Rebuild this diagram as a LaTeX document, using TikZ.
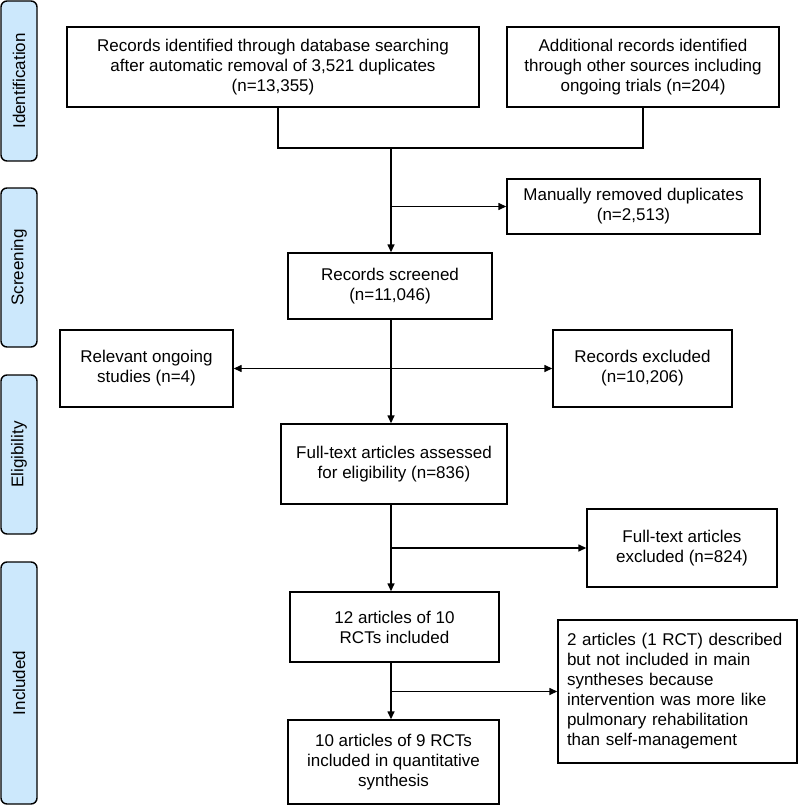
\documentclass[tikz,border=0pt]{standalone}
\usepackage{fontspec}
\setmainfont{Liberation Sans}
\usetikzlibrary{arrows.meta}
\definecolor{tabblue}{RGB}{204,232,252}
\tikzset{
  box/.style={draw=black, line width=1.4pt, fill=white, inner sep=0pt, align=center,
    font=\fontsize{17}{20}\selectfont},
  tab/.style={draw=black, line width=1.4pt, fill=tabblue, rounded corners=6pt, inner sep=0pt,
    minimum width=36pt},
  tabtext/.style={rotate=90, font=\fontsize{17}{20}\selectfont},
  conn/.style={line width=1.4pt},
  arr/.style={conn, -{Triangle[length=8pt,width=7pt]}},
  biarr/.style={conn, {Triangle[length=8pt,width=7pt]}-{Triangle[length=8pt,width=7pt]}}
}
\begin{document}
\begin{tikzpicture}[x=1pt,y=-1pt]
\useasboundingbox (0,0) rectangle (798,805);
% side tabs
\draw[tab] (1,1) rectangle (37,161);
\node[tabtext] (tid) at (19,81) {Identification};
\draw[tab] (1,188) rectangle (37,347);
\node[tabtext] (tsc) at (19,267.5) {Screening};
\draw[tab] (1,375) rectangle (37,534);
\node[tabtext] (tel) at (19,454.5) {Eligibility};
\draw[tab] (1,562) rectangle (37,804);
\node[tabtext] (tin) at (19,683) {Included};
% boxes
\node[box, minimum width=412pt, minimum height=80pt] (b1) at (273,67)
  {Records identified through database searching\\after automatic removal of 3,521 duplicates\\(n=13,355)};
\node[box, minimum width=272pt, minimum height=80pt] (b2) at (643,67)
  {Additional records identified\\through other sources including\\ongoing trials (n=204)};
\node[box, minimum width=253pt, minimum height=55pt] (man) at (633.5,206.5)
  {Manually removed duplicates\\(n=2,513)};
\node[box, minimum width=204pt, minimum height=66pt] (scr) at (390,286)
  {Records screened\\(n=11,046)};
\node[box, minimum width=173pt, minimum height=77pt] (rel) at (146.5,368.5)
  {Relevant ongoing\\studies (n=4)};
\node[box, minimum width=179pt, minimum height=77pt] (exc) at (642.5,368.5)
  {Records excluded\\(n=10,206)};
\node[box, minimum width=226pt, minimum height=80pt] (ft) at (394,464)
  {Full-text articles assessed\\for eligibility (n=836)};
\node[box, minimum width=190pt, minimum height=78pt] (fte) at (682,548)
  {Full-text articles\\excluded (n=824)};
\node[box, minimum width=209pt, minimum height=70pt] (a12) at (394.5,627)
  {12 articles of 10\\RCTs included};
\node[box, minimum width=239pt, minimum height=143pt, align=left, text width=221pt] (a2) at (677.5,691.5)
  {2 articles (1 RCT) described\\but not included in main\\syntheses because\\intervention was more like\\pulmonary rehabilitation\\than self-management};
\node[box, minimum width=211pt, minimum height=84pt] (a10) at (393.5,762)
  {10 articles of 9 RCTs\\included in quantitative\\synthesis};
% connectors
\coordinate (m) at (391,0);
\coordinate (j) at (391,148);
\draw[conn] ([xshift=5pt]b1.south) |- (j) -| (b2.south);
\draw[arr] (j) -- (scr.north -| m);
\draw[arr] (m |- man.west) -- (man.west);
\draw[arr] (scr.south -| m) -- (ft.north -| m);
\draw[biarr] (rel.east) -- (exc.west);
\draw[arr] (ft.south -| m) -- (a12.north -| m);
\draw[arr] (m |- fte.west) -- (fte.west);
\draw[arr] (a12.south -| m) -- (a10.north -| m);
\draw[arr] (m |- a2.west) -- (a2.west);
\end{tikzpicture}
\end{document}
